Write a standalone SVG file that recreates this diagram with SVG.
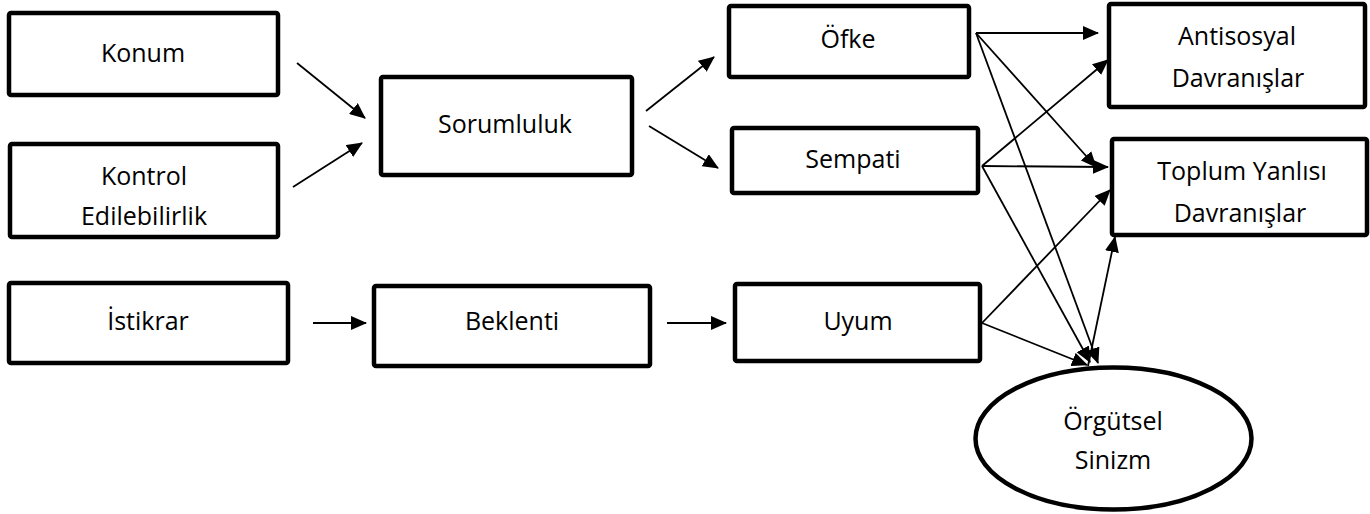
<svg xmlns="http://www.w3.org/2000/svg" width="1370" height="514" viewBox="0 0 1370 514">
  <style>
    .box { fill: #ffffff; stroke: #000000; stroke-width: 4.5; }
    .lbl { font-family: "Open Sans", "Liberation Sans", sans-serif; font-size: 25px; fill: #000000; text-anchor: middle; }
    .edge { stroke: #000000; stroke-width: 1.8; fill: none; marker-end: url(#arrow); }
  </style>
  <defs>
    <marker id="arrow" markerUnits="userSpaceOnUse" markerWidth="16" markerHeight="14" refX="15" refY="7" orient="auto">
      <path d="M0,0 L16,7 L0,14 z" fill="#000000"/>
    </marker>
  </defs>
  <rect width="1370" height="514" fill="#ffffff"/>

  <g id="konum">
    <rect class="box" x="9" y="13" width="269" height="82" rx="2"/>
    <text class="lbl" x="143" y="62">Konum</text>
  </g>
  <g id="kontrol">
    <rect class="box" x="10" y="144" width="268" height="93" rx="2"/>
    <text class="lbl" x="144" y="185">Kontrol</text>
    <text class="lbl" x="144" y="225">Edilebilirlik</text>
  </g>
  <g id="istikrar">
    <rect class="box" x="9" y="283" width="279" height="80" rx="2"/>
    <text class="lbl" x="148" y="330">İstikrar</text>
  </g>
  <g id="sorumluluk">
    <rect class="box" x="381" y="77" width="251" height="98" rx="2"/>
    <text class="lbl" x="505" y="133">Sorumluluk</text>
  </g>
  <g id="beklenti">
    <rect class="box" x="374" y="286" width="276" height="80" rx="2"/>
    <text class="lbl" x="512" y="330">Beklenti</text>
  </g>
  <g id="ofke">
    <rect class="box" x="729" y="6" width="240" height="71" rx="2"/>
    <text class="lbl" x="848" y="48">Öfke</text>
  </g>
  <g id="sempati">
    <rect class="box" x="732" y="128" width="246" height="65" rx="2"/>
    <text class="lbl" x="853" y="168">Sempati</text>
  </g>
  <g id="uyum">
    <rect class="box" x="735" y="284" width="245" height="77" rx="2"/>
    <text class="lbl" x="858" y="330">Uyum</text>
  </g>
  <g id="antisosyal">
    <rect class="box" x="1109" y="4" width="256" height="103" rx="2"/>
    <text class="lbl" x="1237" y="45">Antisosyal</text>
    <text class="lbl" x="1238" y="87">Davranışlar</text>
  </g>
  <g id="toplum">
    <rect class="box" x="1112" y="139" width="255" height="96" rx="2"/>
    <text class="lbl" x="1242" y="180">Toplum Yanlısı</text>
    <text class="lbl" x="1240" y="222">Davranışlar</text>
  </g>
  <g id="orgutsel">
    <ellipse class="box" cx="1113.5" cy="438.5" rx="138" ry="71" stroke-width="5"/>
    <text class="lbl" x="1113" y="430">Örgütsel</text>
    <text class="lbl" x="1113" y="469">Sinizm</text>
  </g>

  <g id="connectors">
    <line class="edge" x1="297" y1="63" x2="365" y2="118"/>
    <line class="edge" x1="293" y1="187" x2="362" y2="143"/>
    <line class="edge" x1="646" y1="111" x2="714" y2="57"/>
    <line class="edge" x1="649" y1="126" x2="718" y2="168"/>
    <line class="edge" x1="313" y1="323" x2="366" y2="323"/>
    <line class="edge" x1="667" y1="323" x2="726" y2="323"/>
    <line class="edge" x1="976" y1="33" x2="1098" y2="33"/>
    <line class="edge" x1="976" y1="33" x2="1096" y2="167"/>
    <line class="edge" x1="976" y1="33" x2="1098" y2="363"/>
    <line class="edge" x1="982" y1="166" x2="1108" y2="60"/>
    <line class="edge" x1="982" y1="166" x2="1108" y2="167"/>
    <line class="edge" x1="982" y1="166" x2="1090" y2="362"/>
    <line class="edge" x1="982" y1="323" x2="1110" y2="190"/>
    <line class="edge" x1="982" y1="323" x2="1087" y2="365"/>
    <line class="edge" x1="1088" y1="366" x2="1115" y2="237"/>
  </g>
</svg>
